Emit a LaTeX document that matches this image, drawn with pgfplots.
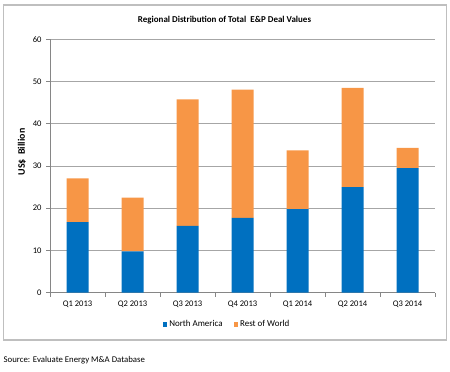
\documentclass[border=0pt]{standalone}
\usepackage{pgfplots}
\pgfplotsset{compat=1.18}
\usepackage{fontspec}
\setmainfont{Carlito}
\definecolor{nablue}{HTML}{0070C0}
\definecolor{roworange}{HTML}{F79646}
\definecolor{framegray}{HTML}{BFBFBF}
\definecolor{gridgray}{HTML}{A6A6A6}
\definecolor{axisgray}{HTML}{868686}
\begin{document}
\begin{tikzpicture}[x=1bp,y=1bp]
\useasboundingbox (0,0) rectangle (450,371);
\draw[framegray, line width=1.2bp] (3.5,31) rectangle (446.5,366);
\node[font=\bfseries\fontsize{9}{11}\selectfont] at (224.5,351) {Regional Distribution of Total \ E\&P Deal Values};
\node[font=\fontsize{8.8}{10}\selectfont, anchor=west, inner sep=0] at (3.5,11) {Source: Evaluate Energy M\&A Database};
\node[font=\bfseries\fontsize{10}{12}\selectfont, rotate=90] at (22,219) {US\$ \ Billion};
\begin{axis}[
  at={(50bp,78.3bp)}, anchor=south west,
  width=385bp, height=253.4bp, scale only axis,
  ybar stacked, bar width=22bp,
  xmin=-0.5, xmax=6.5, ymin=0, ymax=60,
  ytick={0,10,...,60},
  xtick={0,...,6},
  xticklabels={Q1 2013,Q2 2013,Q3 2013,Q4 2013,Q1 2014,Q2 2014,Q3 2014},
  minor xtick={-0.5,0.5,...,6.5},
  axis x line*=bottom, axis y line*=left,
  axis line style={axisgray, line width=0.8bp},
  x axis line style={-}, y axis line style={-},
  ymajorgrids, grid style={gridgray, line width=0.8bp},
  tick align=outside,
  major tick length=4bp, minor tick length=4bp,
  xtick style={draw=none},
  minor x tick style={draw=axisgray, line width=0.8bp},
  ytick style={axisgray, line width=0.8bp},
  /pgf/number format/assume math mode=true,
  tick label style={font=\fontsize{8.6}{10}\selectfont, black},
  yticklabel style={xshift=-1bp},
  xticklabel style={yshift=-1bp},
  legend style={at={(axis description cs:0.46,-0.124)}, anchor=center, draw=none, fill=none,
    font=\fontsize{9}{11}\selectfont, legend columns=2,
    /tikz/every even column/.append style={column sep=9bp}},
  legend image code/.code={\fill[#1] (0bp,-2.8bp) rectangle (4.5bp,1.7bp);},
  clip=false,
]
\addplot[fill=nablue, draw=none] coordinates {(0,16.7) (1,9.8) (2,15.8) (3,17.7) (4,19.8) (5,25.0) (6,29.5)};
\addplot[fill=roworange, draw=none] coordinates {(0,10.4) (1,12.7) (2,30.0) (3,30.4) (4,13.9) (5,23.5) (6,4.8)};
\legend{North America, Rest of World}
\end{axis}
\end{tikzpicture}
\end{document}
